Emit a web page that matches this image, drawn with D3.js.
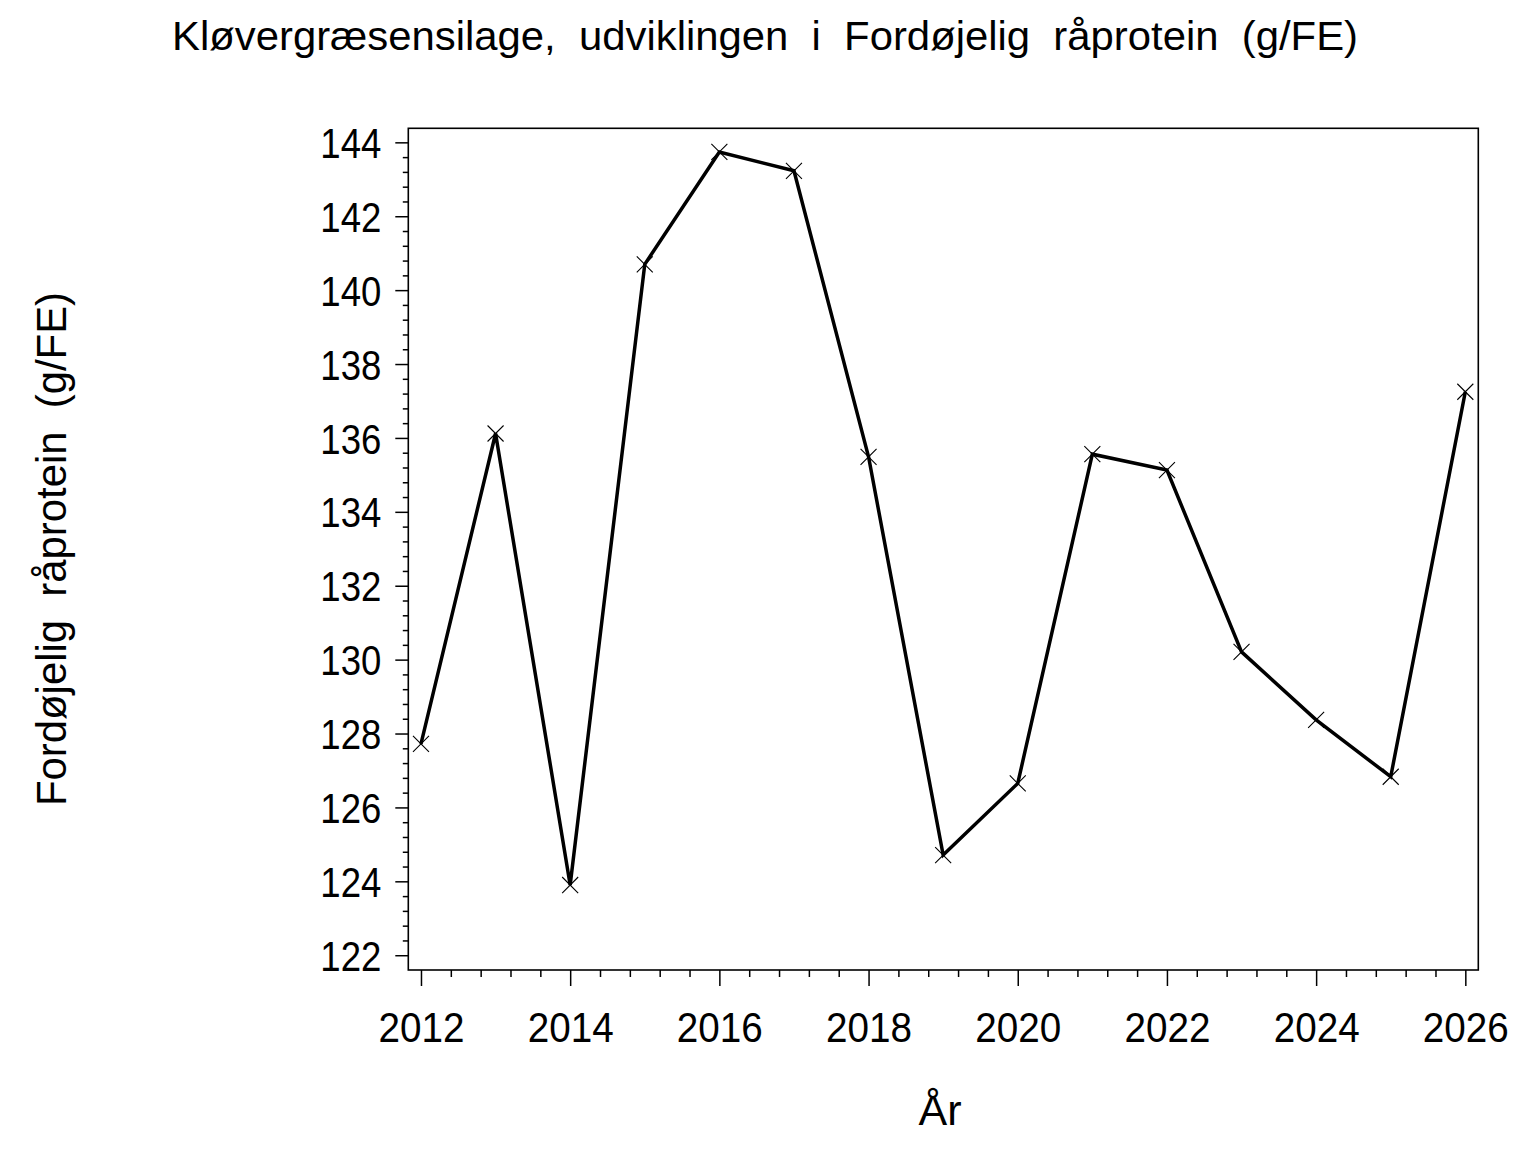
<!DOCTYPE html>
<html>
<head>
<meta charset="utf-8">
<script src="https://cdn.jsdelivr.net/npm/d3@7"></script>
<style>
  html, body { margin: 0; padding: 0; background: #fff; }
  svg { display: block; }
  text { font-family: "Liberation Sans", Arial, Helvetica, sans-serif; fill: #000; }
</style>
</head>
<body>
<svg id="chart" width="1536" height="1152"></svg>
<script>
// ---- data ----
const years = [2012, 2013, 2014, 2015, 2016, 2017, 2018, 2019, 2020, 2021, 2022, 2023, 2024, 2025, 2026];
const values = [127.72, 136.12, 123.9, 140.70, 143.74, 143.23, 135.49, 124.71, 126.65, 135.56, 135.13, 130.21, 128.37, 126.83, 137.25];
const xTickValues = [2012, 2014, 2016, 2018, 2020, 2022, 2024, 2026];
const yTickValues = [122, 124, 126, 128, 130, 132, 134, 136, 138, 140, 142, 144];
const titleText = "Kløvergræsensilage,  udviklingen  i  Fordøjelig  råprotein  (g/FE)";
const yLabelText = "Fordøjelig  råprotein  (g/FE)";
const xLabelText = "År";

(function () {
// ---- layout ----
const svg = d3.select("#chart");
const pLeft = 408.3, pRight = 1478.3, pTop = 128.3, pBottom = 970;

const x = d3.scaleLinear().domain([2011.83, 2026.174]).range([pLeft, pRight]);
const y = d3.scaleLinear().domain([121.6, 144.38]).range([pBottom, pTop]);

const xMinor = d3.range(0, 36).filter(i => i % 5 !== 0).map(i => 2012 + i * 0.4);
const yMinor = d3.range(0, 56).filter(i => i % 5 !== 0).map(i => 122 + i * 0.4);

// frame
svg.append("rect")
  .attr("x", pLeft).attr("y", pTop)
  .attr("width", pRight - pLeft).attr("height", pBottom - pTop)
  .attr("fill", "none").attr("stroke", "#000").attr("stroke-width", 1.6);

// minor ticks
svg.append("g").attr("transform", `translate(${pLeft},0)`)
  .call(d3.axisLeft(y).tickValues(yMinor).tickSize(5.5).tickFormat(""))
  .call(g => g.select(".domain").remove())
  .call(g => g.selectAll("line").attr("stroke-width", 1.5));
svg.append("g").attr("transform", `translate(0,${pBottom})`)
  .call(d3.axisBottom(x).tickValues(xMinor).tickSize(7).tickFormat(""))
  .call(g => g.select(".domain").remove())
  .call(g => g.selectAll("line").attr("stroke-width", 1.5));

// major ticks
const yAxis = svg.append("g").attr("transform", `translate(${pLeft},0)`)
  .call(d3.axisLeft(y).tickValues(yTickValues).tickSize(13).tickPadding(14).tickFormat(d3.format("d")));
yAxis.select(".domain").remove();
yAxis.selectAll("line").attr("stroke-width", 1.5);
yAxis.selectAll("text")
  .attr("font-size", 42).attr("dy", "0.36em")
  .attr("textLength", 61).attr("lengthAdjust", "spacingAndGlyphs")
  .style("font-family", "'Liberation Sans', Arial, sans-serif");

const xAxis = svg.append("g").attr("transform", `translate(0,${pBottom})`)
  .call(d3.axisBottom(x).tickValues(xTickValues).tickSize(16).tickFormat(d3.format("d")));
xAxis.select(".domain").remove();
xAxis.selectAll("line").attr("stroke-width", 1.5);
xAxis.selectAll("text")
  .attr("font-size", 42).attr("y", 0).attr("dy", 0)
  .attr("transform", "translate(0,71.7)")
  .attr("textLength", 86).attr("lengthAdjust", "spacingAndGlyphs")
  .style("font-family", "'Liberation Sans', Arial, sans-serif");

// line
const line = d3.line().x((d, i) => x(years[i])).y(d => y(d));
svg.append("path")
  .datum(values)
  .attr("d", line)
  .attr("fill", "none").attr("stroke", "#000").attr("stroke-width", 3.5)
  .attr("stroke-linejoin", "miter");

// markers
const sym = d3.symbol(d3.symbolX, 169);
svg.append("g").selectAll("path")
  .data(values)
  .join("path")
  .attr("d", sym)
  .attr("transform", (d, i) => `translate(${x(years[i])},${y(d)})`)
  .attr("fill", "none").attr("stroke", "#000").attr("stroke-width", 1.1);

// title
svg.append("text")
  .attr("x", 765).attr("y", 50)
  .attr("text-anchor", "middle")
  .attr("font-size", 40)
  .attr("textLength", 1186).attr("lengthAdjust", "spacingAndGlyphs")
  .style("white-space", "pre")
  .text(titleText);

// y label
svg.append("text")
  .attr("transform", "translate(66,549) rotate(-90)")
  .attr("text-anchor", "middle")
  .attr("font-size", 43)
  .attr("textLength", 514).attr("lengthAdjust", "spacingAndGlyphs")
  .style("white-space", "pre")
  .text(yLabelText);

// x label
svg.append("text")
  .attr("x", 940).attr("y", 1125)
  .attr("text-anchor", "middle")
  .attr("font-size", 43)
  .text(xLabelText);
})();
</script>
</body>
</html>
